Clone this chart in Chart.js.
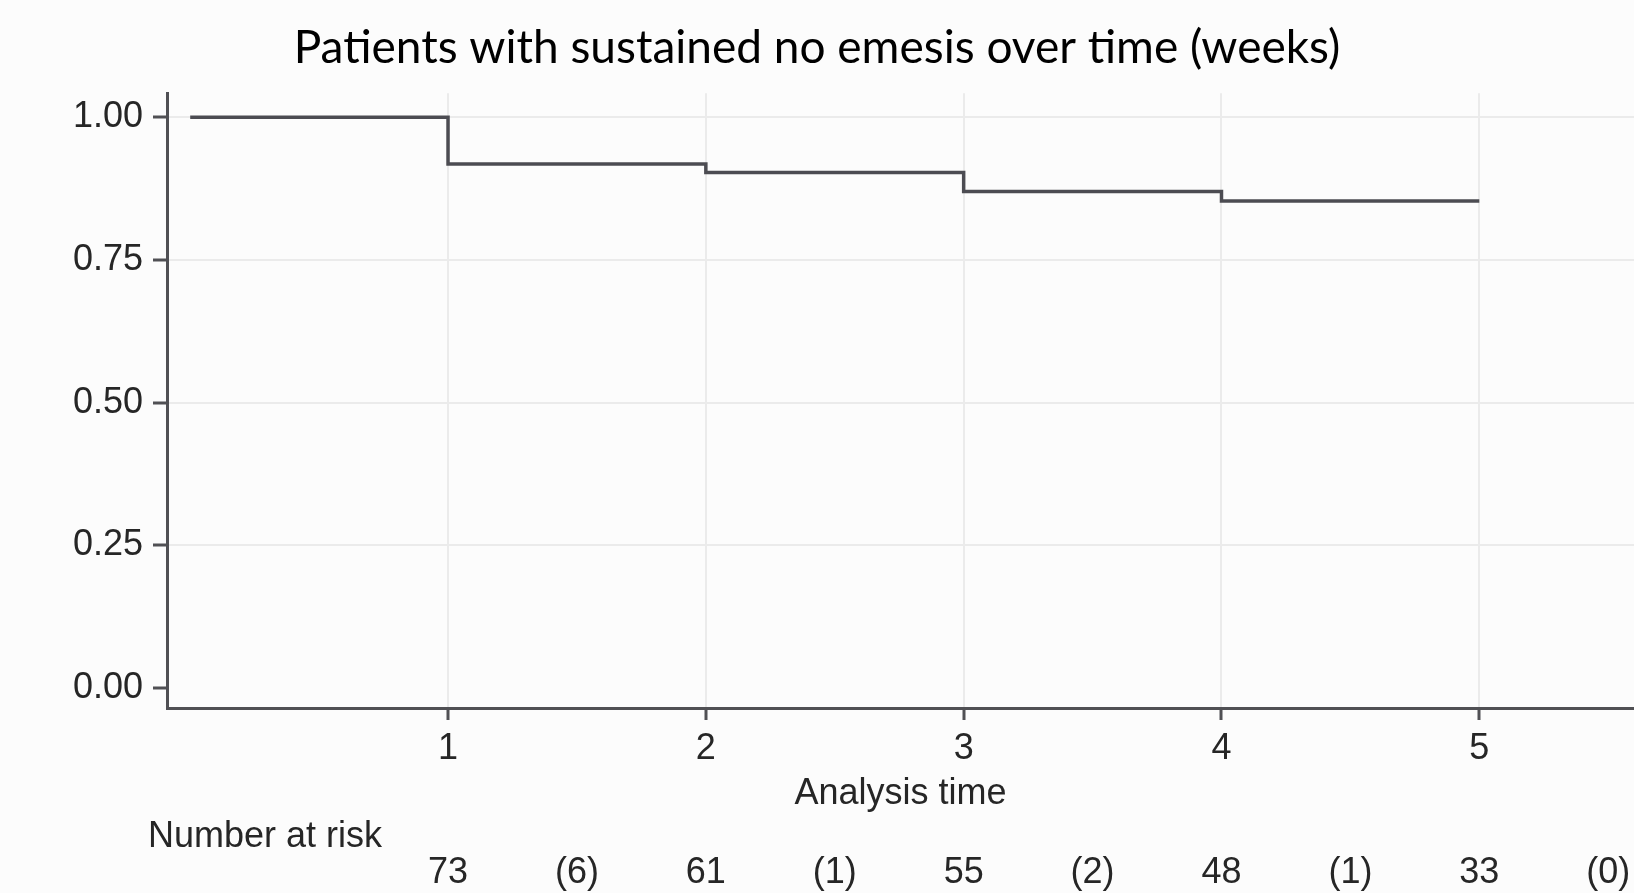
<!DOCTYPE html>
<html>
<head>
<meta charset="utf-8">
<title>Patients with sustained no emesis over time (weeks)</title>
<script src="https://cdn.jsdelivr.net/npm/chart.js@4.4.1/dist/chart.umd.min.js"></script>
<style>
  html, body { margin: 0; padding: 0; background: #fcfcfc; }
  canvas { display: block; }
</style>
</head>
<body>
<canvas id="kmChart" width="1634" height="893"></canvas>
<script>
// Kaplan-Meier estimate
const weeks = [0, 1, 2, 3, 4, 5];
const survival = [1.0, 0.918, 0.903, 0.870, 0.853, 0.853];

// tick labels
const xTicks = [1, 2, 3, 4, 5];
const yTicks = [0, 0.25, 0.5, 0.75, 1.0];

// number-at-risk table (at each week, events in the following interval)
const riskWeeks = [1, 2, 3, 4, 5];
const atRisk = [73, 61, 55, 48, 33];
const events = [6, 1, 2, 1, 0];

const textColor = '#262626';
const axisColor = '#505054';
const gridColor = '#ebebeb';
const numFont = { family: '"Liberation Sans", Arial, sans-serif', size: 36 };

// draws the "Number at risk" rows under the x axis
const riskTable = {
    id: 'riskTable',
    afterDraw(chart) {
        const ctx = chart.ctx;
        const x = chart.scales.x;
        ctx.save();
        ctx.fillStyle = textColor;
        ctx.font = `${numFont.size}px ${numFont.family}`;
        ctx.textBaseline = 'middle';
        ctx.textAlign = 'left';
        ctx.fillText('Number at risk', 148, 837);
        ctx.textAlign = 'center';
        riskWeeks.forEach((w, i) => {
            ctx.fillText(String(atRisk[i]), x.getPixelForValue(w), 873);
            ctx.fillText(`(${events[i]})`, x.getPixelForValue(w + 0.5), 873);
        });
        ctx.restore();
    }
};

new Chart(document.getElementById('kmChart'), {
    type: 'line',
    data: {
        datasets: [{
            data: weeks.map((w, i) => ({ x: w, y: survival[i] })),
            stepped: true,
            borderColor: '#4c4c52',
            borderWidth: 3.5,
            pointRadius: 0,
            fill: false
        }]
    },
    options: {
        responsive: false,
        animation: false,
        layout: { padding: 0 },
        plugins: {
            legend: { display: false },
            tooltip: { enabled: false },
            title: {
                display: true,
                text: 'Patients with sustained no emesis over time (weeks)',
                color: '#000',
                font: { family: 'Lato, "Open Sans", sans-serif', size: 46, weight: 'normal' },
                padding: { top: 21, bottom: 17 }
            }
        },
        scales: {
            x: {
                type: 'linear',
                min: -0.09,
                max: 5.6,
                afterBuildTicks: (scale) => { scale.ticks = xTicks.map(v => ({ value: v })); },
                afterFit: (scale) => { scale.height = 185; },
                ticks: { color: textColor, font: numFont, padding: 7, maxRotation: 0 },
                grid: {
                    color: gridColor,
                    lineWidth: 2,
                    borderDash: [20, 8],
                    tickColor: axisColor,
                    tickWidth: 3,
                    tickLength: 12
                },
                border: { display: true, color: axisColor, width: 3 },
                title: {
                    display: true,
                    text: 'Analysis time',
                    color: textColor,
                    font: numFont,
                    padding: { top: 0, bottom: 77 }
                }
            },
            y: {
                type: 'linear',
                min: -0.035,
                max: 1.042,
                afterBuildTicks: (scale) => { scale.ticks = yTicks.map(v => ({ value: v })); },
                afterFit: (scale) => { scale.width = 167; },
                ticks: {
                    color: textColor,
                    font: numFont,
                    padding: 10,
                    callback: (v) => Number(v).toFixed(2)
                },
                grid: {
                    // no dashed line at 0, only the tick mark
                    color: (c) => c.tick && c.tick.value === 0 ? 'rgba(0,0,0,0)' : gridColor,
                    lineWidth: 2,
                    borderDash: [20, 8],
                    tickColor: axisColor,
                    tickWidth: 3,
                    tickLength: 14
                },
                border: { display: true, color: axisColor, width: 3 }
            }
        }
    },
    plugins: [riskTable]
});
</script>
</body>
</html>
